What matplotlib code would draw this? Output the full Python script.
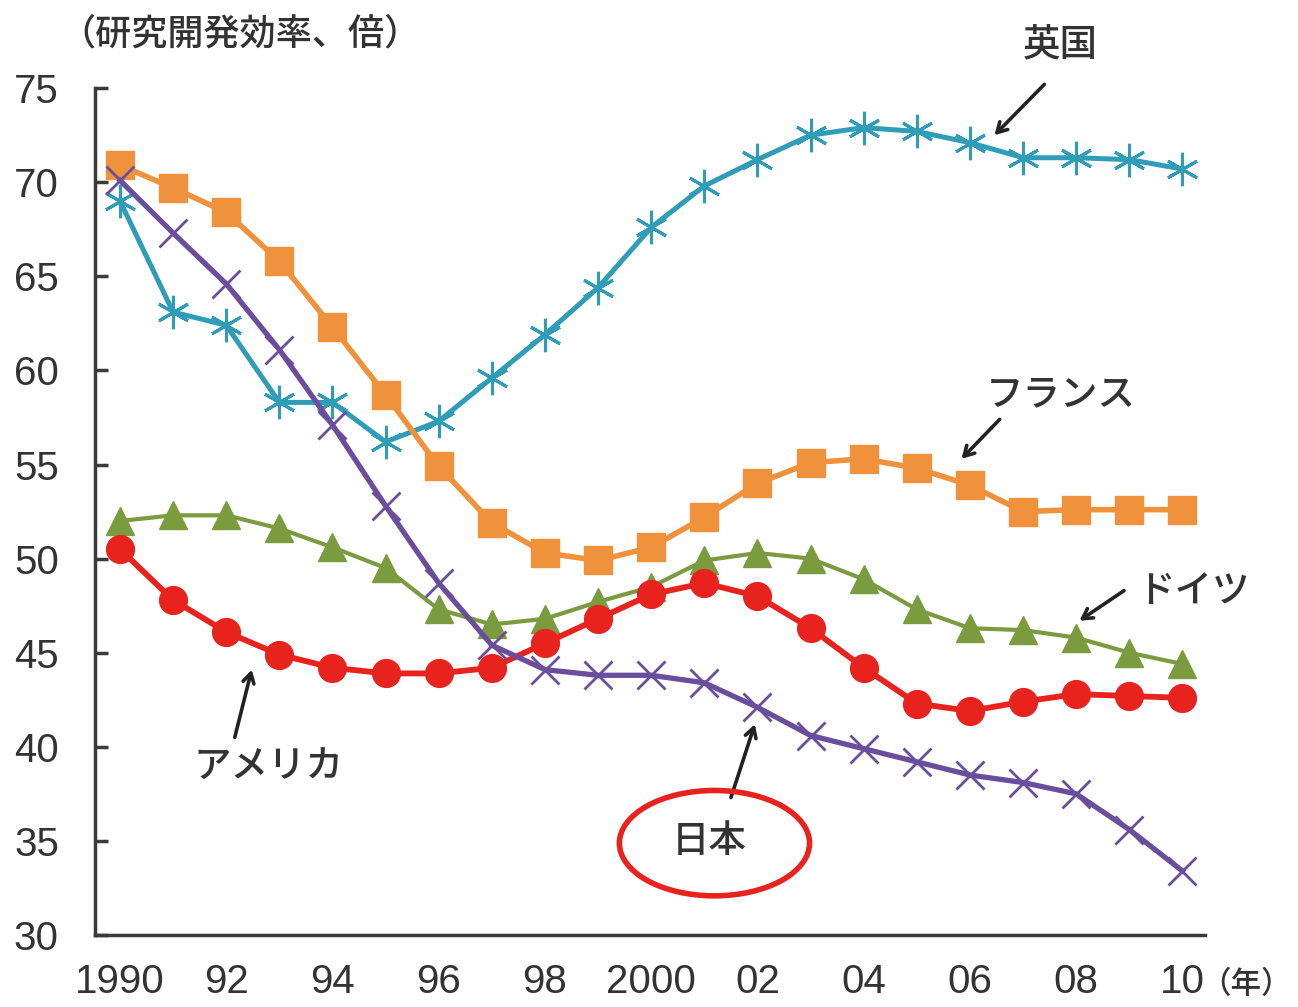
import matplotlib
matplotlib.use("Agg")
import matplotlib.pyplot as plt
from matplotlib.patches import Ellipse

plt.rcParams['font.family'] = ['Noto Sans CJK JP', 'DejaVu Sans']

years = list(range(1990, 2011))
tick_years = list(range(1990, 2011, 2))
tick_labels = ["1990", "92", "94", "96", "98", "2000", "02", "04", "06", "08", "10"]

uk = [69.0, 63.1, 62.4, 58.3, 58.3, 56.2, 57.3, 59.6, 61.9, 64.4, 67.6,
      69.8, 71.2, 72.5, 72.9, 72.7, 72.1, 71.3, 71.3, 71.2, 70.7]
france = [70.9, 69.7, 68.4, 65.8, 62.3, 58.7, 54.9, 51.9, 50.3, 49.9, 50.6,
          52.2, 54.0, 55.1, 55.3, 54.8, 53.9, 52.5, 52.6, 52.6, 52.6]
germany = [52.0, 52.3, 52.3, 51.6, 50.6, 49.5, 47.3, 46.5, 46.8, 47.7, 48.5,
           49.9, 50.3, 50.0, 48.9, 47.3, 46.3, 46.2, 45.8, 45.0, 44.4]
usa = [50.5, 47.8, 46.1, 44.9, 44.2, 43.9, 43.9, 44.2, 45.5, 46.8, 48.1,
       48.7, 48.0, 46.3, 44.2, 42.3, 41.9, 42.4, 42.8, 42.7, 42.6]
japan = [70.1, 67.3, 64.6, 61.1, 57.1, 52.8, 48.7, 45.4, 44.1, 43.8, 43.8,
         43.4, 42.1, 40.6, 39.9, 39.2, 38.5, 38.1, 37.5, 35.6, 33.4]

fig = plt.figure(figsize=(12.98, 10.07), dpi=100)
ax = fig.add_axes([0.0732, 0.0715, 0.855, 0.841])

ax.plot(years, uk, color="#2f9cb8", lw=3.6, marker=(6, 2, 0), ms=24, mew=2.2, zorder=3)
ax.plot(years, france, color="#f0923c", lw=4, marker="s", ms=20, zorder=4)
ax.plot(years, germany, color="#7b9b3f", lw=3, marker="^", ms=20, zorder=3)
ax.plot(years, japan, color="#6a4d9c", lw=3.8, marker="x", ms=20, mew=2, zorder=5)
ax.plot(years, usa, color="#e8231e", lw=4.2, marker="o", ms=20, zorder=4)

ax.set_xlim(1989.53, 2010.42)
ax.set_ylim(30, 75)
ax.set_yticks(range(30, 76, 5))
ax.set_xticks(tick_years)
ax.set_xticklabels(tick_labels)

for s in ["top", "right"]:
    ax.spines[s].set_visible(False)
for s in ["left", "bottom"]:
    ax.spines[s].set_color("#3a3a3a")
    ax.spines[s].set_linewidth(2.5)

ax.tick_params(axis="y", direction="in", length=9, width=2.5, color="#3a3a3a",
               labelsize=29, labelcolor="#333333", pad=26)
ax.tick_params(axis="x", length=0, labelsize=29, labelcolor="#333333", pad=20)
for lab in ax.get_xticklabels() + ax.get_yticklabels():
    lab.set_family(["Liberation Sans", "DejaVu Sans"])

# axis captions
fig.text(0.046, 0.965, "（研究開発効率、倍）", fontsize=26, fontweight="medium",
         color="#333333", ha="left", va="center")
fig.text(0.925, 0.022, "（年）", fontsize=22, fontweight="medium", color="#333333",
         ha="left", va="center")

# country labels with arrows
arrow = dict(arrowstyle="->,head_length=0.7,head_width=0.4", color="#222222", lw=2.6,
             shrinkA=0, shrinkB=0)
labels = [
    ("英国", (2007.7, 77.3), (2007.4, 75.2), (2006.46, 72.5)),
    ("フランス", (2007.7, 58.7), (2006.56, 57.4), (2005.84, 55.3)),
    ("ドイツ", (2010.2, 48.3), (2008.9, 48.3), (2008.06, 46.7)),
    ("アメリカ", (1992.8, 39.0), (1992.16, 40.5), (1992.48, 44.1)),
    ("日本", (2001.1, 35.0), (2001.5, 37.3), (2001.95, 41.2)),
]
for name, pos, tail, head in labels:
    ax.text(pos[0], pos[1], name, fontsize=27, fontweight="medium", color="#333333",
            ha="center", va="center", clip_on=False)
    ax.annotate("", xy=head, xytext=tail, arrowprops=arrow, annotation_clip=False)

ax.add_patch(Ellipse((2001.19, 34.88), 3.58, 5.6, fill=False, ec="#e8231e",
                     lw=4, zorder=6))

fig.savefig("out.png", dpi=100)
